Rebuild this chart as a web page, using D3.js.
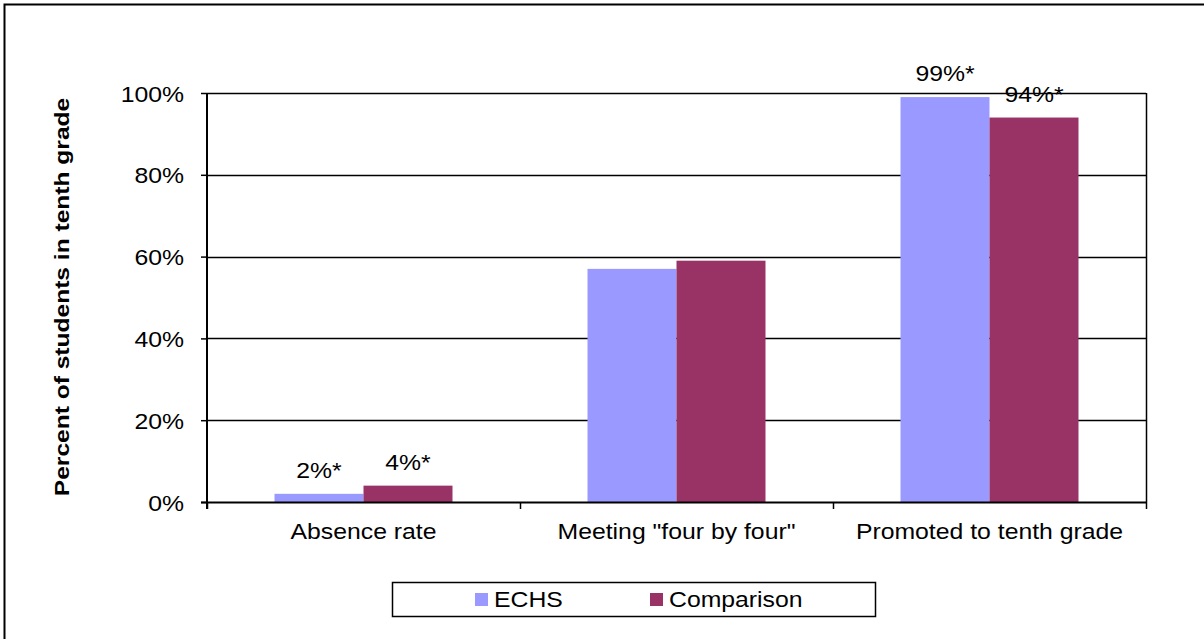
<!DOCTYPE html>
<html>
<head>
<meta charset="utf-8">
<script src="https://cdn.jsdelivr.net/npm/d3@7"></script>
<style>
  body { margin: 0; background: #fff; }
  text { font-family: "Liberation Sans", Arial, sans-serif; fill: #000; }
</style>
</head>
<body>
<div id="chart"></div>
<script>
var categories = ["Absence rate", "Meeting \"four by four\"", "Promoted to tenth grade"];
var seriesNames = ["ECHS", "Comparison"];
var echs = [2, 57, 99];
var comparison = [4, 59, 94];
var echsLabels = ["2%*", "", "99%*"];
var compLabels = ["4%*", "", "94%*"];
var yTicks = [0, 20, 40, 60, 80, 100];
var colors = ["#9999FF", "#993366"];

var W = 1204, H = 639;
var pLeft = 207, pRight = 1146, pTop = 93, pBottom = 502;
var FS = 22, SX = 1.127;   // text in the picture is a bit stretched sideways

var svg = d3.select("#chart").append("svg").attr("width", W).attr("height", H);

// place a text with its anchor at (x,y), stretched horizontally
function label(g, x, y, str, anchor, size) {
  return g.append("text")
    .attr("transform", "translate(" + x + "," + y + ") scale(" + SX + ",1)")
    .attr("text-anchor", anchor || "start")
    .attr("font-size", size || FS)
    .text(str);
}

// outer frame (runs off the right and bottom of the picture)
svg.append("rect").attr("x", 4.5).attr("y", 4.5).attr("width", W + 10).attr("height", H + 10)
  .attr("fill", "none").attr("stroke", "#000").attr("stroke-width", 2);

var x = d3.scaleBand().domain(categories).range([pLeft, pRight]);
var y = d3.scaleLinear().domain([0, 100]).range([pBottom, pTop]);
var bw = 89;
var xs = d3.scaleBand().domain(seriesNames).range([0, bw * 2]);

// gridlines
svg.append("g").selectAll("line").data(yTicks.filter(function(d){ return d > 0; })).enter().append("line")
  .attr("x1", pLeft).attr("x2", pRight)
  .attr("y1", function(d){ return Math.round(y(d)) + 0.5; })
  .attr("y2", function(d){ return Math.round(y(d)) + 0.5; })
  .attr("stroke", "#000").attr("stroke-width", 1.3);
// right border of plot
svg.append("line").attr("x1", pRight + 0.5).attr("x2", pRight + 0.5).attr("y1", pTop).attr("y2", pBottom)
  .attr("stroke", "#000").attr("stroke-width", 1.5);

// bars
var rows = categories.map(function(c, i){ return [
  {cat: c, s: seriesNames[0], v: echs[i], lab: echsLabels[i], col: colors[0]},
  {cat: c, s: seriesNames[1], v: comparison[i], lab: compLabels[i], col: colors[1]}
]; });
var flat = [].concat.apply([], rows);
function bx(d){ return x(d.cat) + (x.bandwidth() - bw * 2) / 2 + xs(d.s); }

svg.append("g").selectAll("rect").data(flat).enter().append("rect")
  .attr("x", bx)
  .attr("y", function(d){ return y(d.v); })
  .attr("width", bw)
  .attr("height", function(d){ return pBottom - y(d.v); })
  .attr("fill", function(d){ return d.col; });

var gl = svg.append("g");
flat.filter(function(d){ return d.lab; }).forEach(function(d){
  label(gl, bx(d) + bw / 2, y(d.v) - 16, d.lab, "middle");
});

// y axis
var yAxis = d3.axisLeft(y).tickValues(yTicks).tickSize(6).tickFormat("");
var gy = svg.append("g").attr("transform", "translate(" + pLeft + ",0)").call(yAxis);
gy.select(".domain").remove();
gy.selectAll(".tick line").attr("stroke", "#000").attr("stroke-width", 1.5);
var gyl = svg.append("g");
yTicks.forEach(function(t){ label(gyl, 184, y(t) + 8.5, t + "%", "end"); });
svg.append("line").attr("x1", pLeft).attr("x2", pLeft).attr("y1", pTop).attr("y2", pBottom + 7)
  .attr("stroke", "#000").attr("stroke-width", 2);

// x axis
svg.append("line").attr("x1", pLeft - 6).attr("x2", pRight + 1).attr("y1", pBottom + 0.5).attr("y2", pBottom + 0.5)
  .attr("stroke", "#000").attr("stroke-width", 2);
var bounds = categories.map(function(c){ return x(c); }).concat([pRight]);
svg.append("g").selectAll("line").data(bounds).enter().append("line")
  .attr("x1", function(d){ return Math.round(d) + 0.5; }).attr("x2", function(d){ return Math.round(d) + 0.5; })
  .attr("y1", pBottom).attr("y2", pBottom + 7)
  .attr("stroke", "#000").attr("stroke-width", 1.5);
var gx = svg.append("g");
categories.forEach(function(c){ label(gx, x(c) + x.bandwidth() / 2, 539, c, "middle"); });

// y title
svg.append("text").attr("transform", "translate(69,297) rotate(-90) scale(1.17,1)")
  .attr("text-anchor", "middle").attr("font-size", 21).attr("font-weight", "bold")
  .text("Percent of students in tenth grade");

// legend
var lg = svg.append("g");
lg.append("rect").attr("x", 392.5).attr("y", 582.5).attr("width", 483).attr("height", 34)
  .attr("fill", "#fff").attr("stroke", "#000").attr("stroke-width", 1.5);
var lx = [475, 650];
seriesNames.forEach(function(s, i){
  lg.append("rect").attr("x", lx[i]).attr("y", 593).attr("width", 13).attr("height", 13).attr("fill", colors[i]);
  label(lg, lx[i] + 19, 607, s, "start");
});
</script>
</body>
</html>
